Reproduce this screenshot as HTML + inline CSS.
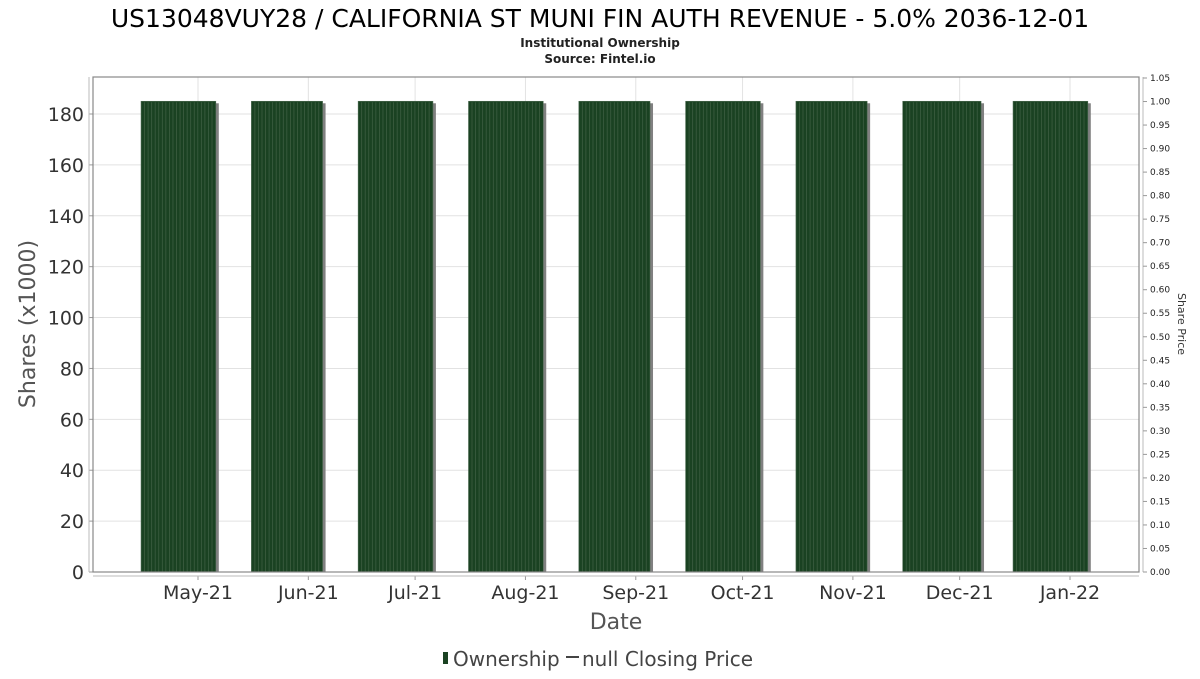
<!DOCTYPE html>
<html><head><meta charset="utf-8"><style>
body{margin:0;background:#fff;font-family:"DejaVu Sans","Liberation Sans",sans-serif;}
svg text{font-family:"DejaVu Sans","Liberation Sans",sans-serif;}
</style></head><body>
<svg id="chart" width="1200" height="675" xmlns="http://www.w3.org/2000/svg">
<text x="600" y="27" text-anchor="middle" font-size="25" fill="#000">US13048VUY28 / CALIFORNIA ST MUNI FIN AUTH REVENUE - 5.0% 2036-12-01</text>
<text x="600" y="47" text-anchor="middle" font-size="12" font-weight="bold" fill="#222">Institutional Ownership</text>
<text x="600" y="63" text-anchor="middle" font-size="12" font-weight="bold" fill="#222">Source: Fintel.io</text>
<g id="grid"></g><g id="bars"></g><g id="axes"></g>
<text transform="translate(35,324) rotate(-90)" text-anchor="middle" font-size="22" fill="#555">Shares (x1000)</text>
<text transform="translate(1178,324) rotate(90)" text-anchor="middle" font-size="11" fill="#333">Share Price</text>
<text x="616" y="629" text-anchor="middle" font-size="22" fill="#555">Date</text>
<g>
<rect x="443" y="652" width="5" height="12" fill="#1a4222"/>
<text x="453" y="666" font-size="20" fill="#444">Ownership</text>
<line x1="566" y1="657" x2="579" y2="657" stroke="#444" stroke-width="2"/>
<text x="582" y="666" font-size="20" fill="#444">null Closing Price</text>
</g>
</svg>
<script>
const barStarts=["2021-04-15","2021-05-16","2021-06-15","2021-07-16","2021-08-16","2021-09-15","2021-10-16","2021-11-15","2021-12-16"];
const barEnds=["2021-05-06","2021-06-05","2021-07-06","2021-08-06","2021-09-05","2021-10-06","2021-11-05","2021-12-07","2022-01-06"];
const shares=[185,185,185,185,185,185,185,185,185];
const monthTicks=["2021-05-01","2021-06-01","2021-07-01","2021-08-01","2021-09-01","2021-10-01","2021-11-01","2021-12-01","2022-01-01"];
const monthLabels=["May-21","Jun-21","Jul-21","Aug-21","Sep-21","Oct-21","Nov-21","Dec-21","Jan-22"];
const yTicks=[0,20,40,60,80,100,120,140,160,180];
const priceTicks=[0,0.05,0.1,0.15,0.2,0.25,0.3,0.35,0.4,0.45,0.5,0.55,0.6,0.65,0.7,0.75,0.8,0.85,0.9,0.95,1.0,1.05];
const NS="http://www.w3.org/2000/svg";
const L=93,R=1139,T=77,B=572;
const t0=Date.UTC(2021,4,1),t1=Date.UTC(2022,0,1);
function xs(d){const t=Date.parse(d+"T00:00:00Z");return 198+(t-t0)/(t1-t0)*(1070-198);}
function ys(v){return 572-v*(458/180);}
function yp(v){return 572-v*(494/1.05);}
function mk(tag,attrs,parent){const e=document.createElementNS(NS,tag);for(const k in attrs)e.setAttribute(k,attrs[k]);parent.appendChild(e);return e;}
const grid=document.getElementById('grid'),bars=document.getElementById('bars'),axes=document.getElementById('axes');
mk('rect',{x:L,y:T,width:R-L,height:B-T,fill:'#fff'},grid);
yTicks.forEach((v,i)=>{const y=ys(v);
 const g=mk('line',{x1:L,x2:R,y1:y,y2:y,stroke:'#e2e2e2','stroke-width':1},grid);
 
 mk('line',{x1:L-4,x2:L,y1:y,y2:y,stroke:'#999'},axes);
 const t=mk('text',{x:L-9,y:y+7,'text-anchor':'end','font-size':19,fill:'#333'},axes);t.textContent=v;
 
});
monthTicks.forEach((d,i)=>{const x=xs(d);
 const g=mk('line',{x1:x,x2:x,y1:T,y2:B,stroke:'#e2e2e2'},grid);
 
 mk('line',{x1:x,x2:x,y1:B+4,y2:B+8,stroke:'#999'},axes);
 const t=mk('text',{x:x,y:599,'text-anchor':'middle','font-size':19,fill:'#333'},axes);t.textContent=monthLabels[i];
 
});
shares.forEach((v,i)=>{const x0=xs(barStarts[i]),x1=xs(barEnds[i]),y=ys(v);
 const sh=mk('rect',{x:x0+3,y:y+2,width:x1-x0,height:B-y-2,fill:'#808080'},bars);
 
 const r=mk('rect',{x:x0,y:y,width:x1-x0,height:B-y,fill:'#1a4222',stroke:'#4d6b52','stroke-width':0.6},bars);
 
 for(let s=x0+3.5;s<x1-1;s+=3.55){mk('line',{x1:s,x2:s,y1:y+1,y2:B,stroke:'#3d5e42','stroke-width':0.8},bars);}
});
mk('rect',{x:L,y:T,width:R-L,height:B-T,fill:'none',stroke:'#888','stroke-width':1.2},axes);
mk('line',{x1:L,x2:R,y1:B+4,y2:B+4,stroke:'#bbb'},axes);
mk('line',{x1:L-4,x2:L-4,y1:T,y2:B,stroke:'#bbb'},axes);
mk('line',{x1:R+4,x2:R+4,y1:T,y2:B,stroke:'#bbb'},axes);
priceTicks.forEach(v=>{const y=yp(v);
 mk('line',{x1:R+4,x2:R+8,y1:y,y2:y,stroke:'#999'},axes);
 const t=mk('text',{x:R+11,y:y+3,'font-size':9,fill:'#222'},axes);t.textContent=v.toFixed(2);
 
});
</script>
</body></html>
